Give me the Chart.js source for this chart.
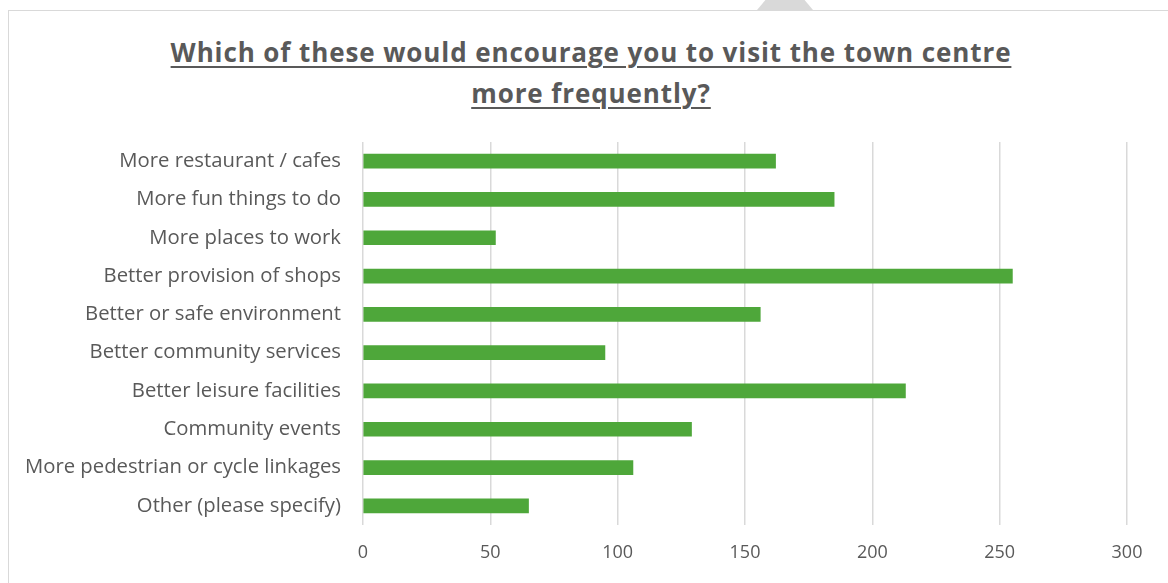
<!DOCTYPE html>
<html>
<head>
<meta charset="utf-8">
<script src="https://cdn.jsdelivr.net/npm/chart.js"></script>
<style>
  html, body { margin: 0; padding: 0; background: #fff; overflow: hidden; }
  body { width: 1168px; height: 583px; position: relative; }
  .frame { position: absolute; left: 8px; top: 10px; width: 1300px; height: 700px;
           border: 1.5px solid #d9d9d9; box-sizing: border-box; }
  .notch { position: absolute; left: 757px; top: 0; width: 56px; height: 10px; background: #d9d9d9;
           clip-path: polygon(15% 0, 85% 0, 100% 100%, 0 100%); }
  h1 { position: absolute; left: 0; width: 1182px; top: 32px; margin: 0; text-align: center;
       font: 700 26px "Open Sans", sans-serif; color: #595959; line-height: 41px; letter-spacing: 0.9px;
       text-decoration: underline; text-decoration-thickness: 2px; text-underline-offset: 4px; }
  .wrap { position: absolute; left: 0; top: 0; width: 1168px; height: 583px; }
</style>
</head>
<body>
<div class="notch"></div>
<div class="frame"></div>
<h1>Which of these would encourage you to visit the town centre<br>more frequently?</h1>
<div class="wrap"><canvas id="chart" width="1168" height="583"></canvas></div>
<script>
const categories = [
  "More restaurant / cafes",
  "More fun things to do",
  "More places to work",
  "Better provision of shops",
  "Better or safe environment",
  "Better community services",
  "Better leisure facilities",
  "Community events",
  "More pedestrian or cycle linkages",
  "Other (please specify)"
];
const responses = [162, 185, 52, 255, 156, 95, 213, 129, 106, 65];
const xTicks = [0, 50, 100, 150, 200, 250, 300];

const ctx = document.getElementById("chart").getContext("2d");
const myChart = new Chart(ctx, {
  type: "bar",
  data: {
    labels: categories,
    datasets: [
      {
        data: responses,
        backgroundColor: "#4ea73a",
        borderWidth: 0,
        barThickness: 14
      }
    ]
  },
  options: {
    indexAxis: "y",
    responsive: false,
    animation: false,
    layout: { padding: { top: 142, right: 41, left: 0, bottom: 0 } },
    plugins: { legend: { display: false }, tooltip: { enabled: false }, title: { display: false } },
    scales: {
      x: {
        min: xTicks[0],
        max: xTicks[xTicks.length - 1],
        afterBuildTicks: (scale) => { scale.ticks = xTicks.map((v) => ({ value: v })); },
        afterFit: (scale) => { scale.height = 58; },
        grid: { color: "#d9d9d9", lineWidth: 1.5, drawTicks: false },
        border: { display: false },
        ticks: { color: "#595959", padding: 17, font: { family: "Open Sans", size: 18 } }
      },
      y: {
        afterFit: (scale) => { scale.width = 363; },
        grid: { display: false, drawTicks: false },
        border: { display: false },
        ticks: { color: "#595959", padding: 22, font: { family: "Open Sans", size: 20.3 } }
      }
    }
  }
});
</script>
</body>
</html>
